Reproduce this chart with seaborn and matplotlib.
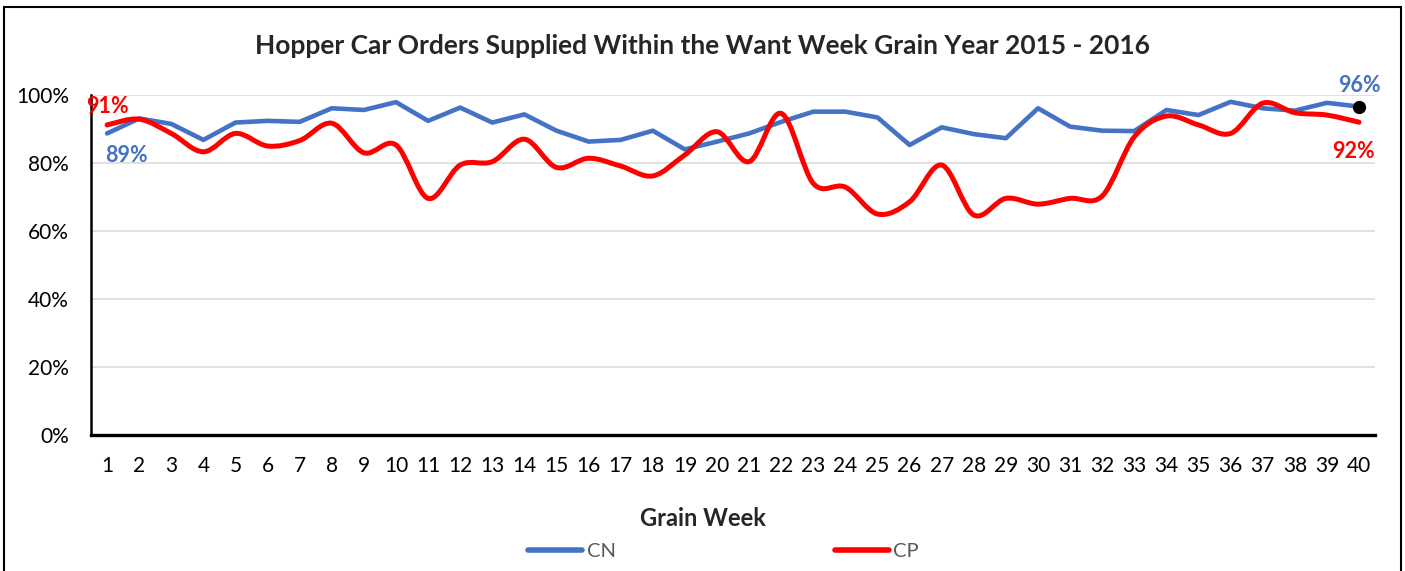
import numpy as np
import pandas as pd
import seaborn as sns
import matplotlib.pyplot as plt
from matplotlib.path import Path
from matplotlib.patches import PathPatch, Rectangle
from matplotlib.lines import Line2D
from matplotlib.ticker import PercentFormatter


# данные (в процентах)
weeks = list(range(1, 41))
cn = [88.7, 93.1, 91.5, 86.8, 91.9, 92.4, 92.1, 96.1, 95.6, 97.9,
      92.4, 96.3, 91.9, 94.3, 89.5, 86.3, 86.8, 89.5, 84.0, 86.3,
      88.7, 92.1, 95.1, 95.1, 93.4, 85.3, 90.5, 88.5, 87.3, 96.1,
      90.7, 89.5, 89.4, 95.6, 94.1, 98.0, 96.1, 95.4, 97.7, 96.6]
cp = [91.2, 92.9, 88.7, 83.3, 88.7, 85.0, 86.6, 91.7, 83.0, 85.3,
      69.6, 79.4, 80.4, 87.0, 78.7, 81.4, 79.1, 76.2, 82.4, 89.2,
      80.4, 94.6, 74.0, 72.9, 65.0, 68.6, 79.4, 64.7, 69.6, 67.9,
      69.6, 70.3, 87.7, 93.8, 91.2, 88.7, 97.6, 94.8, 94.1, 92.0]
series_names = ['CN', 'CP']
y_ticks = [0, 20, 40, 60, 80, 100]

BLUE = '#4472C4'
RED = '#FF0000'

df = pd.DataFrame({'week': weeks, 'CN': cn, 'CP': cp})


def smooth_path(x, y):
    """сглаженная линия как в Excel: кубические Безье через точки"""
    x = np.asarray(x, float)
    y = np.asarray(y, float)
    verts = [(x[0], y[0])]
    codes = [Path.MOVETO]
    n = len(x)
    for i in range(n - 1):
        x0, y0 = (x[i - 1], y[i - 1]) if i > 0 else (x[i], y[i])
        x3, y3 = (x[i + 2], y[i + 2]) if i + 2 < n else (x[i + 1], y[i + 1])
        c1 = (x[i] + (x[i + 1] - x0) / 6, y[i] + (y[i + 1] - y0) / 6)
        c2 = (x[i + 1] - (x3 - x[i]) / 6, y[i + 1] - (y3 - y[i]) / 6)
        verts += [c1, c2, (x[i + 1], y[i + 1])]
        codes += [Path.CURVE4] * 3
    return Path(verts, codes)


sns.set_style("white")
plt.rcParams['font.family'] = ['Lato', 'DejaVu Sans']

fig = plt.figure(figsize=(14.05, 5.71), dpi=100)
ax = fig.add_axes([0.0648, 0.2382, 0.9139, 0.5954])

sns.lineplot(data=df, x='week', y='CN', color=BLUE, linewidth=3.3, ax=ax)
ax.add_patch(PathPatch(smooth_path(df.week, df.CP), fill=False, edgecolor=RED,
                       linewidth=3.6, capstyle='round', joinstyle='round', zorder=3))

# черная точка на последней неделе CN
ax.plot(weeks[-1], cn[-1], 'o', color='black', markersize=8.5, zorder=4)

lab_kw = dict(textcoords='offset points', ha='center', va='center',
              fontsize=15.5, fontweight='bold')
ax.annotate(f"{round(cp[0])}%", (weeks[0], cp[0]), xytext=(0, 13.5), color=RED, **lab_kw)
ax.annotate(f"{round(cn[0])}%", (weeks[0], cn[0]), xytext=(14, -16), color=BLUE, **lab_kw)
ax.annotate(f"{round(cn[-1]) - 1}%", (weeks[-1], cn[-1]), xytext=(0, 15.5), color=BLUE, **lab_kw)
ax.annotate(f"{round(cp[-1])}%", (weeks[-1], cp[-1]), xytext=(-4, -21), color=RED, **lab_kw)

ax.set_xlim(0.5, 40.5)
ax.set_ylim(0, 100)
ax.set_xticks(weeks)
ax.set_yticks(y_ticks)
ax.yaxis.set_major_formatter(PercentFormatter(decimals=0))
ax.tick_params(axis='both', length=0, labelsize=15, colors='black')
ax.tick_params(axis='y', pad=16)
ax.tick_params(axis='x', pad=15)
ax.grid(axis='y', color='#D9D9D9', linewidth=1.1)
ax.set_axisbelow(True)
for s in ['top', 'right']:
    ax.spines[s].set_visible(False)
ax.spines['left'].set_color('black')
ax.spines['left'].set_linewidth(1.8)
ax.spines['bottom'].set_color('black')
ax.spines['bottom'].set_linewidth(2.4)
ax.set(xlabel='', ylabel='')

fig.text(0.5, 0.9194, 'Hopper Car Orders Supplied Within the Want Week Grain Year 2015 - 2016',
         ha='center', va='center', fontsize=19, fontweight='bold')
fig.text(0.5, 0.0928, 'Grain Week', ha='center', va='center', fontsize=17, fontweight='bold')

handles = [Line2D([], [], color=BLUE, linewidth=4, solid_capstyle='round'),
           Line2D([], [], color=RED, linewidth=4, solid_capstyle='round')]
leg = fig.legend(handles, series_names, loc='center', bbox_to_anchor=(0.515, 0.035), ncol=2,
                 frameon=False, fontsize=14.5, handlelength=2.7, handletextpad=0.2,
                 columnspacing=10.9)
for t in leg.get_texts():
    t.set_color('#595959')

# рамка вокруг всей диаграммы
fig.patches.append(Rectangle((4 / 1405, -0.05), 1397 / 1405, 1.05 - 7 / 571,
                             transform=fig.transFigure, fill=False,
                             edgecolor='black', linewidth=1.5))

fig.savefig('out.png', dpi=100)
